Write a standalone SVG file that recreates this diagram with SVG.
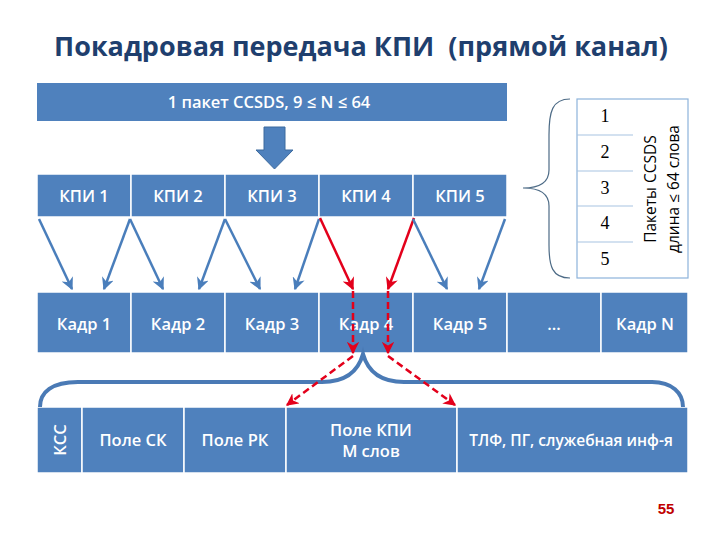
<svg xmlns="http://www.w3.org/2000/svg" width="720" height="540" viewBox="0 0 720 540">
<defs>
<style>
.cell{fill:#4F81BD;stroke:#FFFFFF;stroke-width:1.5}
.lbl{font-family:"Open Sans","Liberation Sans",sans-serif;font-weight:600;font-size:16.5px;fill:#FFFFFF;text-anchor:middle}
.num{font-family:"Liberation Serif","DejaVu Serif",serif;font-size:18px;fill:#000000;text-anchor:middle}
.side{font-family:"Open Sans","Liberation Sans",sans-serif;font-size:15.5px;fill:#000000;text-anchor:middle}
.ba{stroke:#4A7EBB;stroke-width:2.5;fill:none;marker-end:url(#mb)}
.ra{stroke:#E3001B;stroke-width:2.5;fill:none;marker-end:url(#mr)}
.rd{stroke:#E3001B;stroke-width:2.5;fill:none;stroke-dasharray:7 4;marker-end:url(#mr)}
.row{stroke:#A7C4E2;stroke-width:1.2}
</style>
<marker id="mb" viewBox="0 0 10 10" refX="9" refY="5" markerWidth="5" markerHeight="5" orient="auto" markerUnits="strokeWidth">
<path d="M0,0 L10,5 L0,10 L3,5 Z" fill="#4A7EBB"/>
</marker>
<marker id="mr" viewBox="0 0 10 10" refX="9" refY="5" markerWidth="5" markerHeight="5" orient="auto" markerUnits="strokeWidth">
<path d="M0,0 L10,5 L0,10 L3,5 Z" fill="#E3001B"/>
</marker>
</defs>
<rect width="720" height="540" fill="#FFFFFF"/>
<text id="title" x="361" y="56" font-family="'Open Sans','Liberation Sans',sans-serif" font-weight="700" font-size="27" fill="#1F3F6E" text-anchor="middle">Покадровая передача КПИ&#160; (прямой канал)</text>

<g id="packet">
<rect x="37" y="83" width="470" height="38" fill="#4F81BD"/>
<text class="lbl" x="269" y="108">1 пакет CCSDS, 9 ≤ N ≤ 64</text>
</g>
<g id="bigarrow">
<polygon points="264,127 285,127 285,150 293,150 274.5,169 256,150 264,150" fill="#4F81BD" stroke="#3D6A9E" stroke-width="1"/>
</g>

<g id="kpi">
<g id="kpi1"><rect class="cell" x="37" y="174" width="94" height="43"/><text class="lbl" x="84" y="202">КПИ 1</text></g>
<g id="kpi2"><rect class="cell" x="131" y="174" width="94" height="43"/><text class="lbl" x="178" y="202">КПИ 2</text></g>
<g id="kpi3"><rect class="cell" x="225" y="174" width="94" height="43"/><text class="lbl" x="272" y="202">КПИ 3</text></g>
<g id="kpi4"><rect class="cell" x="319" y="174" width="94" height="43"/><text class="lbl" x="366" y="202">КПИ 4</text></g>
<g id="kpi5"><rect class="cell" x="413" y="174" width="94" height="43"/><text class="lbl" x="460" y="202">КПИ 5</text></g>
</g>

<g id="frames">
<g id="kadr1"><rect class="cell" x="37" y="292" width="94" height="61"/><text class="lbl" x="84" y="330">Кадр 1</text></g>
<g id="kadr2"><rect class="cell" x="131" y="292" width="94" height="61"/><text class="lbl" x="178" y="330">Кадр 2</text></g>
<g id="kadr3"><rect class="cell" x="225" y="292" width="94" height="61"/><text class="lbl" x="272" y="330">Кадр 3</text></g>
<g id="kadr4"><rect class="cell" x="319" y="292" width="94" height="61"/><text class="lbl" x="366" y="330">Кадр 4</text></g>
<g id="kadr5"><rect class="cell" x="413" y="292" width="94" height="61"/><text class="lbl" x="460" y="330">Кадр 5</text></g>
<g id="kadrdots"><rect class="cell" x="507" y="292" width="94" height="61"/><text class="lbl" x="554" y="330">…</text></g>
<g id="kadrN"><rect class="cell" x="601" y="292" width="87" height="61"/><text class="lbl" x="645" y="330">Кадр N</text></g>
</g>

<g id="fields">
<g id="kss"><rect class="cell" x="37" y="407" width="45" height="66"/><text class="lbl" transform="translate(66,440) rotate(-90)" x="0" y="0">КСС</text></g>
<g id="sk"><rect class="cell" x="82" y="407" width="102" height="66"/><text class="lbl" x="133" y="446">Поле СК</text></g>
<g id="rk"><rect class="cell" x="184" y="407" width="102" height="66"/><text class="lbl" x="235" y="446">Поле РК</text></g>
<g id="kpifield"><rect class="cell" x="286" y="407" width="171" height="66"/><text class="lbl" x="371" y="436">Поле КПИ</text><text class="lbl" x="371" y="457">М слов</text></g>
<g id="tlf"><rect class="cell" x="457" y="407" width="231" height="66"/><text class="lbl" x="571" y="446" style="font-size:15.5px">ТЛФ, ПГ, служебная инф-я</text></g>
</g>

<g id="packets">
<rect x="577" y="99" width="111" height="179" fill="#FFFFFF" stroke="#8DB3DB" stroke-width="1.2"/>
<line class="row" x1="577" y1="135" x2="633" y2="135"/>
<line class="row" x1="577" y1="171" x2="633" y2="171"/>
<line class="row" x1="577" y1="206" x2="633" y2="206"/>
<line class="row" x1="577" y1="242" x2="633" y2="242"/>
<text class="num" x="605" y="122">1</text>
<text class="num" x="605" y="158">2</text>
<text class="num" x="605" y="194">3</text>
<text class="num" x="605" y="229">4</text>
<text class="num" x="605" y="265">5</text>
<text class="side" transform="translate(656,189) rotate(-90)">Пакеты CCSDS</text>
<text class="side" transform="translate(679,189) rotate(-90)">длина ≤ 64 слова</text>
</g>

<g id="connectors">
<path d="M570,99 C552,99 549,112 549,135 L549,170 C549,182 540,188 523,188 C540,188 549,194 549,206 L549,245 C549,266 552,278 570,278" fill="none" stroke="#4D6B86" stroke-width="1.2"/>
<line class="ba" x1="39" y1="219" x2="72" y2="289"/>
<line class="ba" x1="130" y1="219" x2="104" y2="289"/>
<line class="ba" x1="130" y1="219" x2="163" y2="289"/>
<line class="ba" x1="225" y1="219" x2="199" y2="289"/>
<line class="ba" x1="225" y1="219" x2="260" y2="289"/>
<line class="ba" x1="319" y1="219" x2="295" y2="289"/>
<line class="ra" x1="320" y1="218" x2="353" y2="289"/>
<line class="ra" x1="414" y1="218" x2="388" y2="289"/>
<line class="ba" x1="413" y1="219" x2="447" y2="289"/>
<line class="ba" x1="505" y1="219" x2="479" y2="289"/>
<path d="M40,407 C40,392 52,382 78,382 L322,382 C345,382 358,372 363,354 C368,372 381,382 404,382 L652,382 C672,382 683,393 683,407" fill="none" stroke="#4A7AB5" stroke-width="4"/>
<line class="rd" x1="353" y1="291" x2="353" y2="353"/>
<line class="rd" x1="388" y1="291" x2="388" y2="353"/>
<line class="rd" x1="353" y1="356" x2="287" y2="405"/>
<line class="rd" x1="388" y1="356" x2="455" y2="405"/>
</g>

<text id="page" x="666" y="514" font-family="'Liberation Sans',Arial,sans-serif" font-weight="700" font-size="15" fill="#C00000" text-anchor="middle">55</text>
</svg>
